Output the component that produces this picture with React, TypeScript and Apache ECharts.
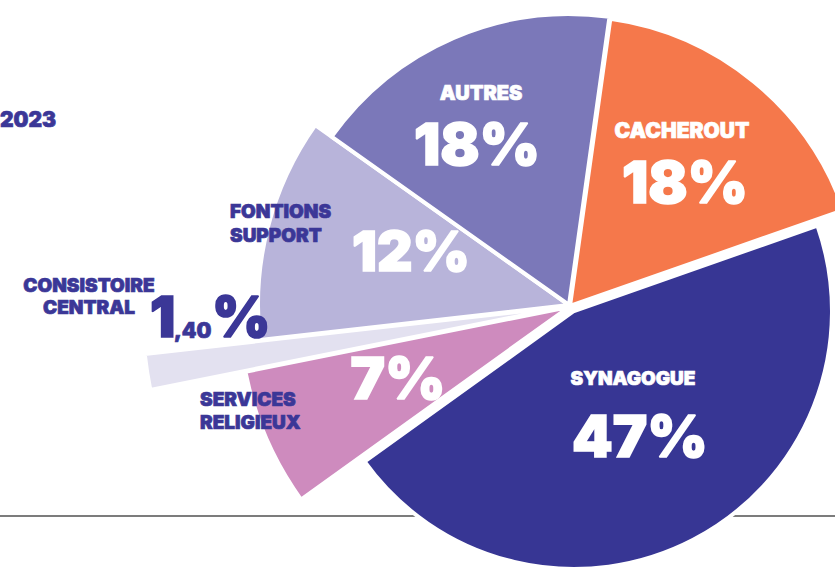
import React, { useEffect, useRef } from "react";
import * as echarts from "echarts";

// ---- data ----
const categories = [
  "CACHEROUT",
  "SYNAGOGUE",
  "SERVICES RELIGIEUX",
  "CONSISTOIRE CENTRAL",
  "FONTIONS SUPPORT",
  "AUTRES",
];
const values = [18, 47, 7, 1.4, 12, 18];
const percentLabels = ["18%", "47%", "7%", "1,40%", "12%", "18%"];
const titleText = "2023";

// ---- styles / layout ----
const colors = ["#F5784B", "#373694", "#CE8BBE", "#E3E1F0", "#B8B4DA", "#7B78B9"];
const radii = [290, 258, 330, 427, 311, 291];
const centers: [number, number][] = [
  [570, 306],
  [574, 311],
  [569, 307],
  [569, 306],
  [569, 305],
  [569, 305],
];
const START_ANGLE = 82;
const NAVY = "#3B3797";
const FONT = "Inter, 'Noto Sans', sans-serif";

function buildSeries() {
  return categories.map((_, i) => ({
    type: "pie",
    name: categories[i],
    center: centers[i],
    radius: [0, radii[i]],
    startAngle: START_ANGLE,
    clockwise: true,
    silent: true,
    avoidLabelOverlap: false,
    z: 2 + (i === 3 ? 0 : 1),
    label: { show: false },
    labelLine: { show: false },
    emphasis: { disabled: true },
    data: categories.map((c, j) => ({
      name: c,
      value: values[j],
      itemStyle:
        j === i
          ? { color: colors[j], borderColor: "#ffffff", borderWidth: 4 }
          : { color: "rgba(0,0,0,0)", borderWidth: 0 },
    })),
  }));
}

function txt(
  text: string,
  x: number,
  y: number,
  size: number,
  fill: string,
  align: string = "center",
  extra: any = {}
) {
  const heavy = size >= 40 ? 1.6 : 0.7;
  return {
    type: "text",
    x,
    y,
    z: 100,
    silent: true,
    style: {
      text,
      fill,
      stroke: fill,
      lineWidth: heavy,
      font: `900 ${size}px ${FONT}`,
      textAlign: align,
      textVerticalAlign: "middle",
      ...extra,
    },
  };
}

export default function App() {
  const ref = useRef<HTMLDivElement>(null);
  useEffect(() => {
    if (!ref.current) return;
    const chart = echarts.init(ref.current, undefined, { renderer: "svg" });
    const [cName, sName, srName, ccName, fsName, aName] = categories;
    const [cPct, sPct, srPct, ccPct, fsPct, aPct] = percentLabels;
    const ccMatch = ccPct.match(/^(\d)(,\d+)(%)$/) || ["", "1", ",40", "%"];
    const splitTwo = (s: string) => s.split(" ").join("\n");
    const option: any = {
      animation: false,
      backgroundColor: "#ffffff",
      series: buildSeries(),
      graphic: {
        elements: [
          {
            type: "line",
            z: 0,
            silent: true,
            shape: { x1: 0, y1: 516, x2: 835, y2: 516 },
            style: { stroke: "#7c7c7c", lineWidth: 2 },
          },
          txt(titleText, 0, 119, 21, NAVY, "left"),
          // CACHEROUT
          txt(cName, 682, 130, 21, "#ffffff"),
          txt(cPct, 685, 182, 58, "#ffffff"),
          // AUTRES
          txt(aName, 481, 93, 20, "#ffffff"),
          txt(aPct, 477, 144, 58, "#ffffff"),
          // FONTIONS SUPPORT
          txt(splitTwo(fsName), 230, 223, 19, NAVY, "left", { lineHeight: 24 }),
          txt(fsPct, 411, 251, 55, "#ffffff"),
          // CONSISTOIRE CENTRAL
          txt(splitTwo(ccName), 89, 296, 19, NAVY, "center", { lineHeight: 22 }),
          txt(ccMatch[1], 150, 317, 56, NAVY, "left"),
          txt(ccMatch[2], 174, 330, 21, NAVY, "left"),
          txt(ccMatch[3], 212, 317, 56, NAVY, "left"),
          // SERVICES RELIGIEUX
          txt(splitTwo(srName), 200, 411, 19, NAVY, "left", { lineHeight: 23 }),
          txt(srPct, 398, 378, 58, "#ffffff"),
          // SYNAGOGUE
          txt(sName, 633, 378, 19, "#ffffff"),
          txt(sPct, 640, 436, 58, "#ffffff"),
        ],
      },
    };
    chart.setOption(option);
    return () => chart.dispose();
  }, []);
  return (
    <div
      ref={ref}
      style={{
        position: "fixed",
        left: 0,
        top: 0,
        width: 835,
        height: 570,
        background: "#ffffff",
      }}
    />
  );
}
